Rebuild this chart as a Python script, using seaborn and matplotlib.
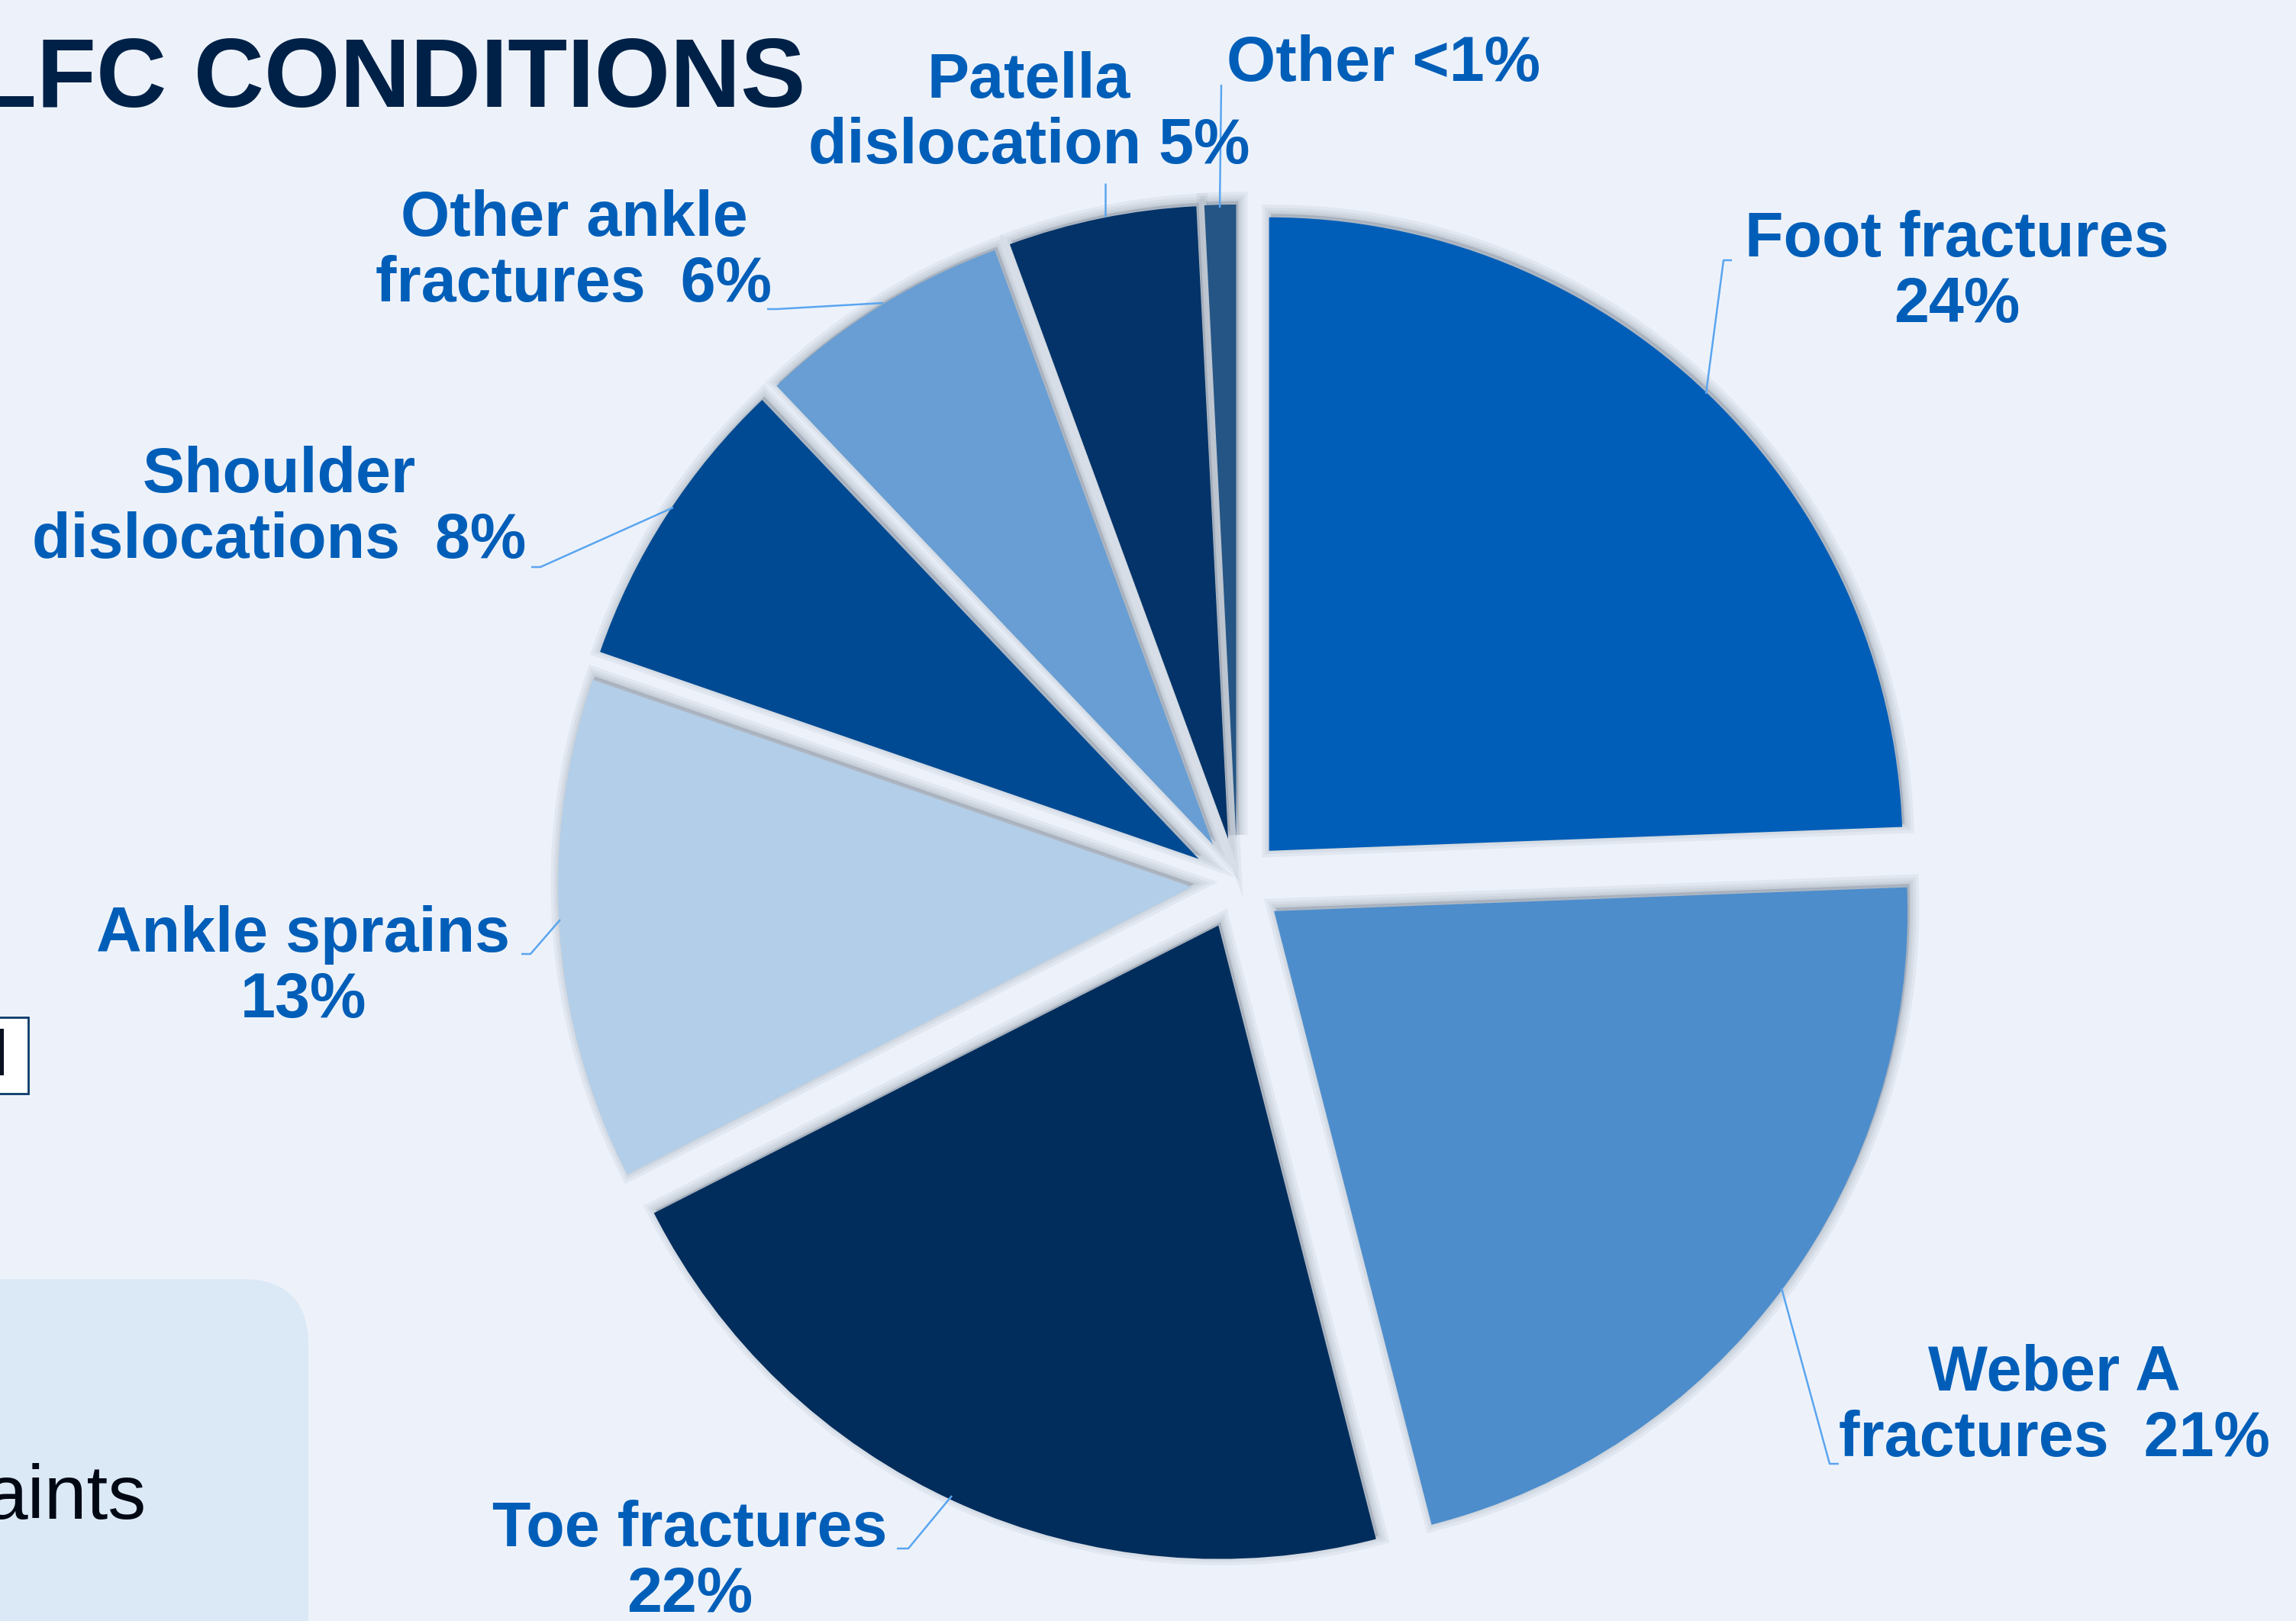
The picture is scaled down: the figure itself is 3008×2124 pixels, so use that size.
import numpy as np
import pandas as pd
import seaborn as sns
import matplotlib.pyplot as plt
from matplotlib.patches import Shadow, FancyBboxPatch, Rectangle

# values (percent of presentations)
conditions = ['Foot fractures', 'Weber A fractures', 'Toe fractures', 'Ankle sprains',
              'Shoulder dislocations', 'Other ankle fractures', 'Patella dislocation', 'Other']
share = [24.4, 21.6, 21.5, 12.8, 7.6, 6.5, 4.8, 0.8]
labels = ['Foot fractures\n24%', 'Weber A\nfractures  21%', 'Toe fractures\n22%',
          'Ankle sprains\n13%', 'Shoulder\ndislocations  8%', 'Other ankle\nfractures  6%',
          'Patella\ndislocation 5%', 'Other <1%']
colours = ['#005EB8', '#4D8DCC', '#002D5C', '#B3CEE8', '#004A93', '#689ED3', '#033368', '#245585']

df = pd.DataFrame({'condition': conditions, 'share': share, 'label': labels})

# layout, in image pixels (origin top left)
W, H = 3008, 2124
centre = (1621, 1158)
radius = 830
gap = 60  # explode distance, data units = pixels here
label_xy = [(2564, 357), (2691, 1843), (904, 2047), (397, 1268),
            (366, 666), (752, 330), (1348, 149), (1607, 84)]
label_ha = ['center'] * 7 + ['left']
leaders = [
    [(2269, 341), (2258, 341), (2235, 516)],
    [(2409, 1918), (2397, 1918), (2334, 1688)],
    [(1175, 2029), (1190, 2029), (1247, 1960)],
    [(683, 1250), (695, 1250), (734, 1205)],
    [(696, 743), (708, 743), (882, 665)],
    [(1005, 405), (1017, 405), (1157, 397)],
    [(1448, 240), (1448, 284)],
    [(1600, 111), (1598, 272)],
]

sns.set_theme(style='white')
plt.rcParams['font.family'] = ['Liberation Sans', 'DejaVu Sans']
bg = '#EDF2FA'
label_colour = '#005EB8'
leader_colour = '#5AA5F0'

fig = plt.figure(figsize=(W / 100, H / 100), dpi=100, facecolor=bg)
ax = fig.add_axes([0, 0, 1, 1])
ax.set_facecolor(bg)

pal = sns.color_palette(colours)
wedges, _ = ax.pie(df['share'], colors=pal, radius=radius, center=centre,
                   startangle=-90, counterclock=True,
                   explode=[gap] * len(df),
                   wedgeprops=dict(linewidth=0))

# soft drop shadow under every slice
for w in wedges:
    for lw in [18, 12, 7, 3]:
        ax.add_patch(Shadow(w, 2, -3, facecolor='#6f7a8c', edgecolor='#6f7a8c',
                            linewidth=lw, alpha=0.09))

ax.set_xlim(0, W)
ax.set_ylim(H, 0)
ax.set_aspect('auto')
ax.axis('off')

for (x, y), text, ha in zip(label_xy, df['label'], label_ha):
    ax.text(x, y, text, ha=ha, va='center', multialignment='center',
            fontsize=59.5, fontweight='bold', color=label_colour, linespacing=1.12)

for path in leaders:
    xs, ys = zip(*path)
    ax.plot(xs, ys, color=leader_colour, lw=1.8, solid_capstyle='butt')

# slide furniture cut off at the left edge
ax.text(1055, 140, 'LFC CONDITIONS', ha='right', va='baseline', fontsize=92,
        fontweight='bold', color='#002147')
ax.add_patch(FancyBboxPatch((-120, 1676), 524, 600,
                            boxstyle='round,pad=0,rounding_size=87',
                            facecolor='#DBE8F5', edgecolor='none', zorder=0.5))
ax.text(192, 1990, 'aints', ha='right', va='baseline', fontsize=72, color='#000814')
ax.add_patch(Rectangle((-10, 1333), 47, 100, facecolor='white',
                       edgecolor='#0B3A6B', linewidth=2))
ax.add_patch(Rectangle((-5, 1348), 10, 61, facecolor='#0A1020', edgecolor='none'))

fig.savefig('out.png', dpi=100, facecolor=bg)
